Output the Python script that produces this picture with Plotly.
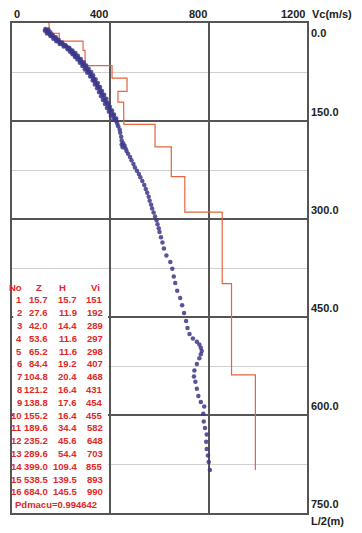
import plotly.graph_objects as go

# ---- layer table (interval velocities) ----
layer_no = [1, 2, 3, 4, 5, 6, 7, 8, 9, 10, 11, 12, 13, 14, 15, 16]
layer_z = [15.7, 27.6, 42.0, 53.6, 65.2, 84.4, 104.8, 121.2, 138.8, 155.2,
           189.6, 235.2, 289.6, 399.0, 538.5, 684.0]
layer_h = [15.7, 11.9, 14.4, 11.6, 11.6, 19.2, 20.4, 16.4, 17.6, 16.4,
           34.4, 45.6, 54.4, 109.4, 139.5, 145.5]
layer_v = [151, 192, 289, 297, 298, 407, 468, 431, 454, 455,
           582, 648, 703, 855, 893, 990]
fit_label = "Pdmacu=0.994642"

# ---- measured average velocity points (depth, Vc) ----
pt_depth = [
    9, 11, 13, 15, 17, 19, 21, 23, 25, 27, 29, 31, 33, 35, 37, 39, 41, 43, 45, 47, 49, 51,
    54, 57, 60, 63, 66, 69, 72, 75, 78, 81, 84, 87, 90, 94, 98, 102, 106, 110, 114, 118,
    122, 126, 130, 134, 138, 142, 146, 150, 154,
    10, 14, 18, 22, 26, 30, 34, 38, 42, 46, 50, 55, 60, 65, 70, 75, 80, 86, 92, 98, 104,
    110, 116, 122, 128, 134, 140, 146,
    12, 16, 20, 24, 28, 32, 36, 40, 44, 48, 52, 56, 61, 66, 71, 76, 82, 88, 94, 100, 106,
    112, 118, 124, 130, 136, 142, 148,
    158, 163, 168, 174, 180, 184, 186, 188, 190, 192, 196, 200, 205, 210, 216, 221, 226,
    231, 236, 242, 248, 254, 260, 266, 272, 278, 284, 290, 296, 302, 308, 314, 320, 328,
    336, 345, 356, 366,
    376, 388, 398, 410, 421, 432, 444, 456, 467, 476, 483, 488, 492, 497, 502, 507, 513,
    522, 532, 541, 549, 560, 571, 580, 587, 598, 610, 620, 630, 641, 652, 662, 672, 684,
]
pt_vel = [
    136, 140, 144, 148, 154, 160, 168, 174, 180, 186, 193, 200, 208, 217, 224, 230, 236, 241,
    246, 251, 256, 262, 270, 277, 283, 289, 295, 301, 307, 313, 319, 324, 330, 334, 338, 345,
    351, 357, 362, 368, 373, 378, 384, 390, 395, 400, 406, 412, 419, 424, 428,
    148, 156, 165, 178, 190, 204, 218, 233, 246, 258, 268, 280, 292, 302, 312, 322, 330, 340,
    349, 358, 366, 375, 384, 392, 398, 407, 415, 424,
    134, 142, 156, 168, 180, 194, 210, 226, 236, 246, 256, 266, 276, 286, 296, 306, 318, 328,
    337, 346, 354, 362, 370, 378, 386, 394, 402, 412,
    432, 438, 440, 444, 446, 452, 446, 458, 450, 462, 466, 472, 480, 486, 494, 500, 508,
    516, 522, 530, 538, 544, 550, 556, 560, 566, 570, 576, 582, 588, 592, 597, 600, 606,
    612, 618, 628, 644,
    652, 658, 664, 672, 684, 692, 700, 708, 714, 722, 736, 752, 762, 768, 772, 768, 762,
    752, 742, 740, 746, 752, 758, 768, 782, 778, 780, 785, 792, 790, 792, 797, 800, 805,
]

x_ticks = [0, 400, 800, 1200]
y_major = [0, 150, 300, 450, 600, 750]
y_minor = [75, 225, 375, 525, 675]
x_title = "Vc(m/s)"
y_title = "L/2(m)"

# ---- build step line from layer table ----
step_x, step_y = [], []
prev = 0.0
for z, v in zip(layer_z, layer_v):
    step_x += [v, v]
    step_y += [prev, z]
    prev = z

# page body has an 8px default margin -> work in page pixels, offset by 8
OFF = 8
W, H = 362 - OFF, 533 - OFF
ML, MT = 12 - OFF, 23 - OFF
MR = W - (307 - OFF)
MB = H - (513 - OFF)
PW, PH = W - ML - MR, H - MT - MB

def px2paper_x(px):
    return (px - OFF - ML) / PW

def px2paper_y(py):
    return (H - MB - (py - OFF)) / PH

fig = go.Figure()
fig.add_trace(go.Scatter(x=step_x, y=step_y, mode="lines",
                         line=dict(color="#e4643e", width=1.2),
                         hoverinfo="skip", showlegend=False))
fig.add_trace(go.Scatter(x=pt_vel, y=pt_depth, mode="markers",
                         marker=dict(color="#3c3789", size=4.5, opacity=0.85,
                                     line=dict(width=0)),
                         showlegend=False))

grid_dark = "#555555"
fig.update_layout(
    width=W, height=H,
    margin=dict(l=ML, r=MR, t=MT, b=MB, pad=0),
    paper_bgcolor="white", plot_bgcolor="white",
    xaxis=dict(range=[0, 1200], tickvals=x_ticks, showticklabels=False,
               showgrid=True, gridcolor=grid_dark, gridwidth=1.5,
               zeroline=False, showline=True, mirror=True,
               linecolor=grid_dark, linewidth=2, ticks="", side="top"),
    yaxis=dict(range=[750, 0], tickvals=y_major, showticklabels=False,
               showgrid=True, gridcolor=grid_dark, gridwidth=1.5,
               minor=dict(tickvals=y_minor, showgrid=True, gridcolor="#d0d0d0",
                          gridwidth=1, ticks=""),
               zeroline=False, showline=True, mirror=True,
               linecolor=grid_dark, linewidth=2, ticks=""),
    font=dict(family="Liberation Sans, Arial, sans-serif"),
)

lab_font = dict(family="Liberation Sans, Arial, sans-serif", size=11, color="#222222")
ann = []
# top axis labels
for v in x_ticks:
    ann.append(dict(x=v, y=1, xref="x", yref="paper", text="<b>%d</b>" % v,
                    showarrow=False, xanchor="left" if v == 0 else "right",
                    yanchor="bottom", yshift=1, font=lab_font))
ann.append(dict(x=px2paper_x(310), y=1, xref="paper", yref="paper",
                text="<b>%s</b>" % x_title, showarrow=False, xanchor="left",
                yanchor="bottom", yshift=1, font=lab_font))
# right axis labels
for d in y_major:
    ann.append(dict(x=px2paper_x(309), y=d, xref="paper", yref="y",
                    text="<b>%.1f</b>" % d, showarrow=False, xanchor="left",
                    yanchor="top" if d == 0 else "bottom",
                    yshift=-2 if d == 0 else 1, font=lab_font))
ann.append(dict(x=px2paper_x(309), y=px2paper_y(521), xref="paper", yref="paper",
                text="<b>%s</b>" % y_title, showarrow=False, xanchor="left",
                yanchor="middle", font=lab_font))

# table
tab_font = dict(family="Liberation Sans, Arial, sans-serif", size=9.5, color="#e02828")
row0 = 287
row_h = 12.8
col_right = [24, 50, 79, 105]
headers = ["No", "Z", "H", "Vi"]
head_right = [24, 44, 68, 102]
for txt, xr in zip(headers, head_right):
    ann.append(dict(x=px2paper_x(xr), y=px2paper_y(row0), xref="paper", yref="paper",
                    text="<b>%s</b>" % txt, showarrow=False, xanchor="right",
                    yanchor="middle", font=tab_font))
for i, (n, z, h, v) in enumerate(zip(layer_no, layer_z, layer_h, layer_v)):
    yy = px2paper_y(row0 + row_h * (i + 1))
    cells = ["%d" % n, "%.1f" % z, "%.1f" % h, "%d" % v]
    for txt, xr in zip(cells, col_right):
        ann.append(dict(x=px2paper_x(xr), y=yy, xref="paper", yref="paper",
                        text="<b>%s</b>" % txt, showarrow=False, xanchor="right",
                        yanchor="middle", font=tab_font))
ann.append(dict(x=px2paper_x(13), y=px2paper_y(row0 + row_h * 17), xref="paper",
                yref="paper", text="<b>%s</b>" % fit_label, showarrow=False,
                xanchor="left", yanchor="middle", font=tab_font))

fig.update_layout(annotations=ann)
fig.add_shape(type="rect", xref="paper", yref="paper",
              x0=px2paper_x(13.2), x1=px2paper_x(108),
              y0=px2paper_y(511.8), y1=px2paper_y(279),
              fillcolor="white", line=dict(width=0), layer="above")

fig.write_html("out.html")
